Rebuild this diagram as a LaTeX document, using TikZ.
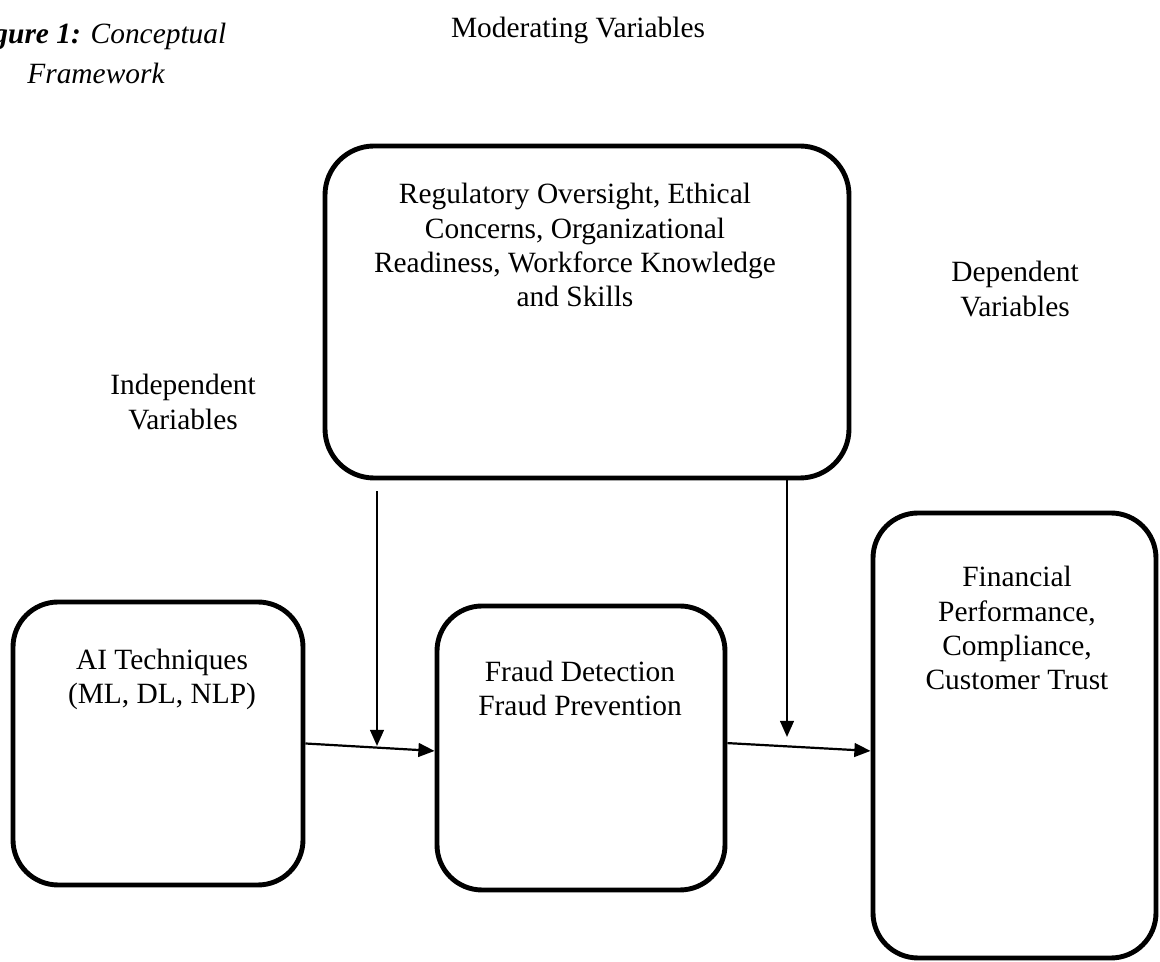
\documentclass[tikz,border=0pt]{standalone}
\usepackage{fontspec}
\setmainfont{Liberation Serif}
\usetikzlibrary{arrows.meta}
\tikzset{
  frame/.style={draw=black, line width=2pt, rounded corners=18.4pt, inner sep=0pt},
  txt/.style={align=center, inner sep=0pt, font=\fontsize{12pt}{13.9pt}\selectfont},
  conn/.style={line width=0.9pt, -{Triangle[length=6.6pt,width=5.6pt]}}
}
\begin{document}
\begin{tikzpicture}[x=0.408pt, y=-0.408pt]
\useasboundingbox (0,0) rectangle (1160,962);
% caption
\node[txt, font=\fontsize{12pt}{16.3pt}\selectfont\itshape] (cap) at (96,53) {\textbf{Figure 1:} Conceptual\\Framework};
% headings
\node[txt] (modlab) at (578,30) {Moderating Variables};
\node[txt] (indlab) at (183,402) {Independent\\Variables};
\node[txt] (deplab) at (1015,289) {Dependent\\Variables};
% boxes
\node[frame, rounded corners=20pt, minimum width=524*0.408pt, minimum height=332*0.408pt] (mod) at (587,312) {};
\node[frame, minimum width=290*0.408pt, minimum height=283*0.408pt] (ai) at (158,743.5) {};
\node[frame, minimum width=288*0.408pt, minimum height=284*0.408pt] (fraud) at (581,748) {};
\node[frame, minimum width=283*0.408pt, minimum height=445*0.408pt] (dep) at (1014.5,735.5) {};
% box texts
\node[txt] (modt) at (575,245) {Regulatory Oversight, Ethical\\Concerns, Organizational\\Readiness, Workforce Knowledge\\and Skills};
\node[txt] (ait) at (162,679) {AI Techniques\\(ML, DL, NLP)};
\node[txt] (fraudt) at (580,688) {Fraud Detection\\Fraud Prevention};
\node[txt] (dept) at (1017,628) {Financial\\Performance,\\Compliance,\\Customer Trust};
% junction points on the horizontal arrows
\coordinate (j1) at (377,746);
\coordinate (j2) at (787,737);
% connectors
\draw[conn] (ai.east) -- ([yshift=-1.2pt]fraud.west);
\draw[conn] ([yshift=2pt]fraud.east) -- ([yshift=-6.3pt]dep.west);
\draw[conn] ([yshift=-4.5pt]mod.south -| j1) -- (j1);
\draw[conn] (mod.south -| j2) -- (j2);
\end{tikzpicture}
\end{document}
